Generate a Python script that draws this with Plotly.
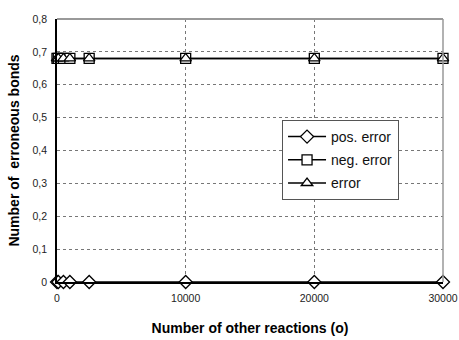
import plotly.graph_objects as go

# Data
reactions = [0, 100, 500, 1000, 2500, 10000, 20000, 30000]
pos_error = [0, 0, 0, 0, 0, 0, 0, 0]
neg_error = [0.68, 0.68, 0.68, 0.68, 0.68, 0.68, 0.68, 0.68]
error = [0.68, 0.68, 0.68, 0.68, 0.68, 0.68, 0.68, 0.68]

x_ticks = [0, 10000, 20000, 30000]
y_ticks = [0, 0.1, 0.2, 0.3, 0.4, 0.5, 0.6, 0.7, 0.8]
y_labels = ["0", "0,1", "0,2", "0,3", "0,4", "0,5", "0,6", "0,7", "0,8"]

fig = go.Figure()

series = [
    ("pos. error", pos_error, "diamond"),
    ("neg. error", neg_error, "square"),
    ("error", error, "triangle-up"),
]
for name, vals, sym in series:
    fig.add_trace(go.Scatter(
        x=reactions, y=vals, name=name, mode="lines+markers",
        legendgroup=name,
        line=dict(color="black", width=1.5),
        marker=dict(symbol=sym, size=10, color="white",
                    line=dict(color="black", width=1.3)),
        cliponaxis=False,
    ))

fig.update_layout(
    width=459, height=340,
    margin=dict(l=57, r=16, t=19, b=58),
    plot_bgcolor="white", paper_bgcolor="white",
    font=dict(family="Liberation Sans, Arial", size=11, color="#222"),
    showlegend=True,
    legend=dict(x=0.583, y=0.616, xanchor="left", yanchor="top",
                bgcolor="white", bordercolor="#555", borderwidth=1,
                font=dict(size=14, color="#111"), traceorder="grouped",
                itemwidth=38, tracegroupgap=2),
    shapes=[
        dict(type="line", xref="paper", yref="paper", x0=0, x1=1, y0=1, y1=1,
             line=dict(color="#999", width=2)),
        dict(type="line", xref="paper", yref="paper", x0=1, x1=1, y0=0, y1=1,
             line=dict(color="#999", width=1.5)),
    ],
)

fig.update_xaxes(
    range=[0, 30000], tickvals=x_ticks, ticktext=[str(t) for t in x_ticks],
    showgrid=True, gridcolor="#777", griddash="dot", gridwidth=1,
    showline=True, linecolor="black", linewidth=1.5,
    zeroline=False, ticks="", tickfont=dict(size=10.5),
    ticklabelstandoff=6, automargin=False,
    title=dict(text="<b>Number of other reactions (o)</b>",
               font=dict(size=14, color="black"), standoff=20),
)
fig.update_yaxes(
    range=[0, 0.8], tickvals=y_ticks, ticktext=y_labels,
    showgrid=True, gridcolor="#777", griddash="dot", gridwidth=1,
    showline=True, linecolor="black", linewidth=1.5,
    zeroline=False, ticks="", tickfont=dict(size=10.5),
    ticklabelstandoff=6, automargin=False,
    title=dict(text="<b>Number of  erroneous bonds</b>",
               font=dict(size=14, color="black"), standoff=10),
)

# drop the default body margin so the figure fills the window exactly
fig.write_html("out.html", config={"displayModeBar": False},
               post_script="document.body.style.margin='0';"
                           "document.body.style.overflow='hidden';")
